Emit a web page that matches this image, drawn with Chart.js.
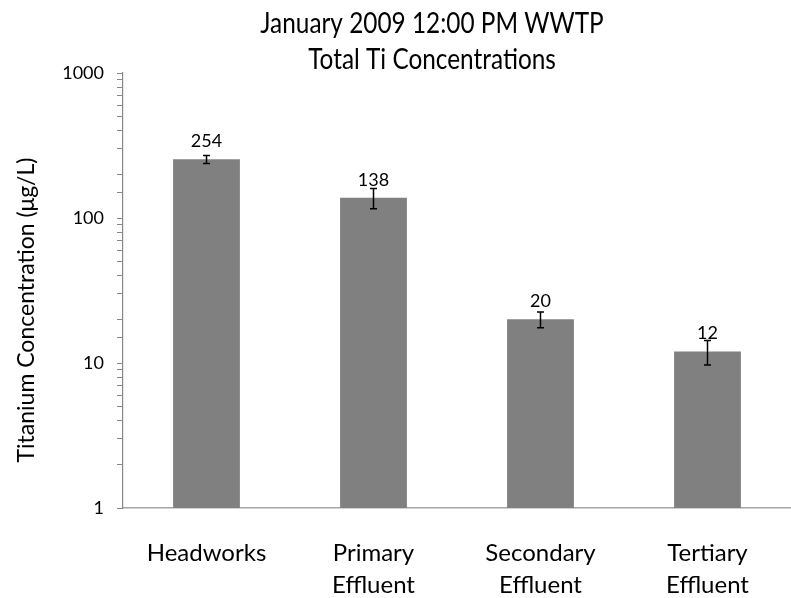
<!DOCTYPE html>
<html>
<head>
<meta charset="utf-8">
<script src="https://cdn.jsdelivr.net/npm/chart.js@4/dist/chart.umd.min.js"></script>
<style>
  html, body { margin: 0; padding: 0; background: #fff; }
  #wrap { width: 791px; height: 598px; }
</style>
</head>
<body>
<div id="wrap"><canvas id="tiChart"></canvas></div>
<script>
// sampling points along the plant
var stations = [['Headworks'], ['Primary', 'Effluent'], ['Secondary', 'Effluent'], ['Tertiary', 'Effluent']];
// total Ti, ug/L
var tiValues = [254, 138, 20, 12];
// +/- spread for the error bars
var tiErrors = [16, 22, 2.5, 2.3];
var yTickLabels = [1, 10, 100, 1000];
var titleLines = ['January 2009 12:00 PM WWTP', 'Total Ti Concentrations'];
var yAxisTitle = 'Titanium Concentration (\u03bcg/L)';

var fontName = 'Lato, "Open Sans", sans-serif';

// two-line heading (slightly condensed) and the rotated y axis title
var headingPlugin = {
    id: 'heading',
    afterDraw: function(chart) {
        var ctx = chart.ctx;
        ctx.save();
        ctx.fillStyle = '#000';
        ctx.font = '28px ' + fontName;
        ctx.textAlign = 'center';
        ctx.textBaseline = 'alphabetic';
        ctx.save();
        ctx.translate(432, 0);
        ctx.scale(0.87, 1);
        ctx.fillText(titleLines[0], 0, 33);
        ctx.fillText(titleLines[1], 0, 69);
        ctx.restore();

        ctx.translate(34, 310);
        ctx.rotate(-Math.PI / 2);
        ctx.font = '23px ' + fontName;
        ctx.fillText(yAxisTitle, 0, 0);
        ctx.restore();
    }
};

// error bars plus the value written over each bar
var errorBarPlugin = {
    id: 'errorBars',
    afterDatasetsDraw: function(chart) {
        var ctx = chart.ctx;
        var yScale = chart.scales.y;
        var meta = chart.getDatasetMeta(0);
        ctx.save();
        ctx.strokeStyle = '#000';
        ctx.lineWidth = 1.5;
        meta.data.forEach(function(bar, i) {
            var v = tiValues[i];
            var top = yScale.getPixelForValue(v + tiErrors[i]);
            var bottom = yScale.getPixelForValue(v - tiErrors[i]);
            ctx.beginPath();
            ctx.moveTo(bar.x, top);
            ctx.lineTo(bar.x, bottom);
            ctx.moveTo(bar.x - 3.5, top);
            ctx.lineTo(bar.x + 3.5, top);
            ctx.moveTo(bar.x - 3.5, bottom);
            ctx.lineTo(bar.x + 3.5, bottom);
            ctx.stroke();

            ctx.fillStyle = '#000';
            ctx.font = '18px ' + fontName;
            ctx.textAlign = 'center';
            ctx.textBaseline = 'middle';
            ctx.fillText(String(v), bar.x, bar.y - 18);
        });
        ctx.restore();
    }
};

var ctx = document.getElementById('tiChart').getContext('2d');
var chart = new Chart(ctx, {
    type: 'bar',
    data: {
        labels: stations,
        datasets: [{
            data: tiValues,
            backgroundColor: '#808080',
            borderWidth: 0,
            barPercentage: 0.4,
            categoryPercentage: 1.0
        }]
    },
    options: {
        responsive: true,
        maintainAspectRatio: false,
        animation: false,
        layout: { padding: { top: 73, right: 0, left: 0, bottom: 0 } },
        plugins: {
            legend: { display: false },
            tooltip: { enabled: false },
            title: { display: false }
        },
        scales: {
            x: {
                grid: { display: false, drawTicks: false },
                border: { display: true, color: '#a6a6a6', width: 1.5 },
                ticks: {
                    color: '#000',
                    font: { family: fontName, size: 24, lineHeight: 1.3 },
                    padding: 30,
                    maxRotation: 0
                },
                afterFit: function(scale) { scale.height = 90; }
            },
            y: {
                type: 'logarithmic',
                min: 1,
                max: 1000,
                border: { display: true, color: '#888', width: 1.2 },
                grid: {
                    drawOnChartArea: false,
                    drawTicks: true,
                    tickLength: 6,
                    color: '#888'
                },
                ticks: {
                    color: '#000',
                    font: { family: fontName, size: 18 },
                    padding: 13,
                    autoSkip: false,
                    callback: function(value) {
                        return yTickLabels.indexOf(value) >= 0 ? String(value) : '';
                    }
                },
                afterFit: function(scale) { scale.width = 123; }
            }
        }
    },
    plugins: [headingPlugin, errorBarPlugin]
});
</script>
</body>
</html>
